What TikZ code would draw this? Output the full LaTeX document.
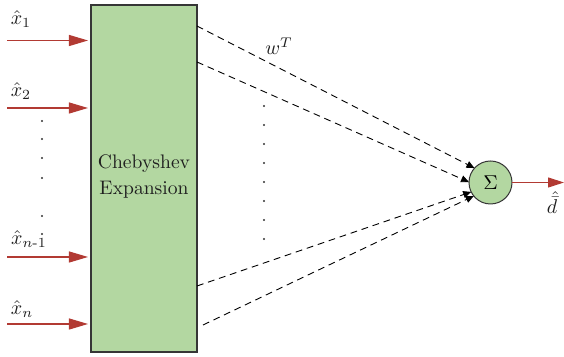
\documentclass[tikz,border=0pt]{standalone}
\usepackage{amsmath}
\usetikzlibrary{arrows.meta}
\definecolor{cellgreen}{HTML}{B3D7A1}
\definecolor{edgegray}{HTML}{363636}
\definecolor{sigred}{HTML}{B23A33}
\tikzset{
  expbox/.style={draw=edgegray, line width=0.75pt, fill=cellgreen, outer sep=0pt, inner sep=0pt},
  sumnode/.style={circle, draw=edgegray, line width=0.5pt, fill=cellgreen, minimum size=21.5pt, inner sep=0pt, outer sep=0pt, font=\fontsize{10}{12}\selectfont},
  bigtext/.style={font=\fontsize{9.8}{13}\selectfont, align=center, text=black!88},
  varlabel/.style={font=\fontsize{10}{12}\selectfont, text=black!88, inner sep=0pt},
  inarrow/.style={draw=sigred, line width=0.55pt, -{Triangle[length=9.5pt,width=5.5pt]}, shorten >=1.5pt},
  outarrow/.style={draw=sigred, line width=0.55pt, -{Triangle[length=8pt,width=5pt]}},
  weightline/.style={draw=black, line width=0.45pt, dash pattern=on 3.4pt off 2.4pt, -{Triangle[length=4pt,width=3.5pt]}},
  dotmark/.style={circle, fill=black!80, inner sep=0pt, minimum size=1.1pt}
}
\begin{document}
\begin{tikzpicture}[x=0.5pt,y=-0.5pt]
\useasboundingbox (0,0) rectangle (564,357);

% expansion block and summing junction
\node[expbox, minimum width=53pt, minimum height=173.5pt] (box) at (144,178.5) {};
\node[bigtext] (cheb) at (144,176) {Chebyshev\\Expansion};
\node[sumnode] (sig) at (490.5,182.5) {$\Sigma$};

% inputs
\coordinate (a1) at (7,40.5);
\coordinate (a2) at (7,108);
\coordinate (a3) at (7,257);
\coordinate (a4) at (7,324);
\draw[inarrow] (a1) -- (a1 -| box.west);
\draw[inarrow] (a2) -- (a2 -| box.west);
\draw[inarrow] (a3) -- (a3 -| box.west);
\draw[inarrow] (a4) -- (a4 -| box.west);

\node[varlabel] (x1) at (21,19) {$\hat{x}_1$};
\node[varlabel] (x2) at (21,91) {$\hat{x}_2$};
\node[varlabel] (xm) at (29,239) {$\hat{x}_{n\text{-}1}$};
\node[varlabel] (xn) at (22,309) {$\hat{x}_n$};

% input ellipsis
\foreach \yy [count=\i] in {121,139,158,178,216,234}
  \node[dotmark] (ldot\i) at (42,\yy) {};

% weighted connections
\draw[weightline] ([yshift=-10.5pt]box.north east) -- (sig.138);
\draw[weightline] ([yshift=-28.5pt]box.north east) -- (sig.179);
\draw[weightline] ([yshift=33pt]box.south east) -- (sig.206);
\draw[weightline] ([xshift=3pt,yshift=13.5pt]box.south east) -- (sig.219);
\node[varlabel] (wt) at (279,46) {$w^T$};

% connection ellipsis
\foreach \yy [count=\i] in {106,125,144,163,182,201,220,239}
  \node[dotmark] (mdot\i) at (264,\yy) {};

% output
\coordinate (out) at (564,182.5);
\draw[outarrow] (sig.east) -- (out);
\node[varlabel] (dout) at (552,203) {$\hat{\bar{d}}$};
\end{tikzpicture}
\end{document}
